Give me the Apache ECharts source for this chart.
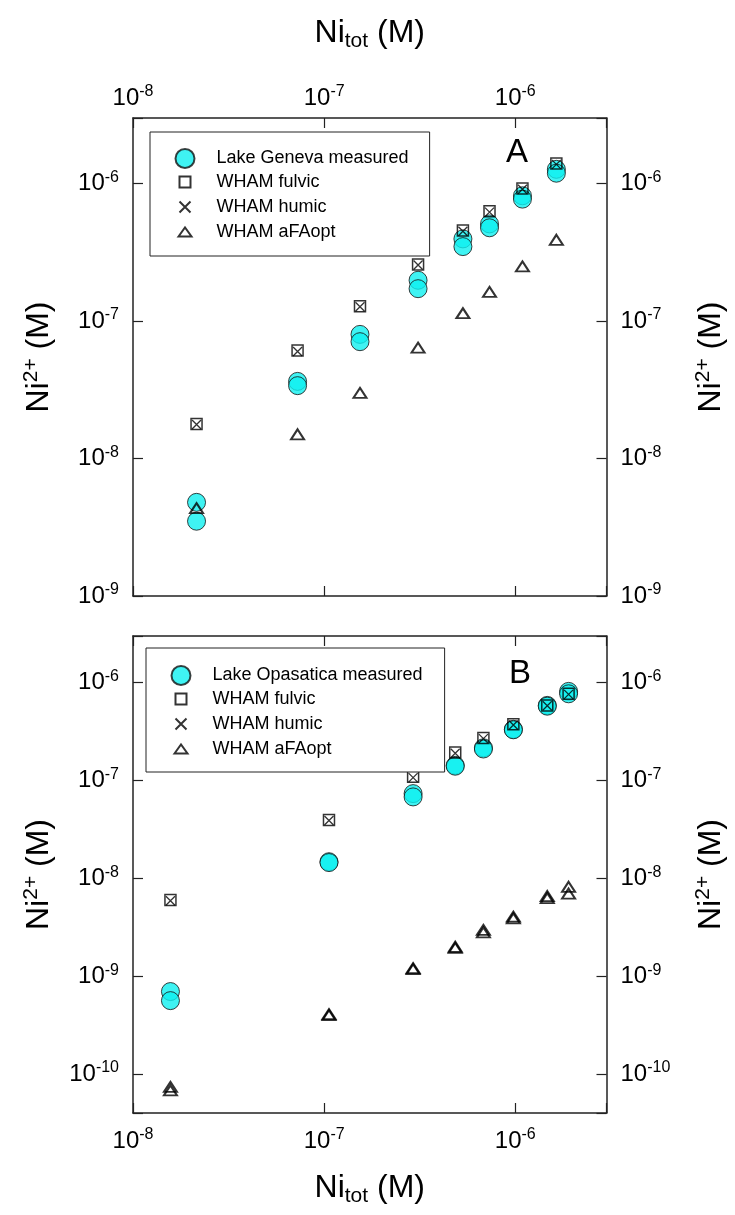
<!DOCTYPE html>
<html>
<head>
<meta charset="utf-8">
<script src="https://cdn.jsdelivr.net/npm/echarts@6/dist/echarts.min.js"></script>
<style>
  html, body { margin: 0; padding: 0; background: #fff; }
  #chart { width: 735px; height: 1215px; }
</style>
</head>
<body>
<div id="chart"></div>
<script>
// ---- panel A : Lake Geneva ----
var niTotA = [2.15e-8, 7.26e-8, 1.54e-7, 3.1e-7, 5.32e-7, 7.33e-7, 1.09e-6, 1.64e-6];
var measuredA1 = [4.8e-9, 3.64e-8, 8.0e-8, 1.98e-7, 3.96e-7, 5.09e-7, 8.15e-7, 1.27e-6];
var measuredA2 = [3.5e-9, 3.39e-8, 7.08e-8, 1.72e-7, 3.48e-7, 4.77e-7, 7.71e-7, 1.19e-6];
var fulvicA = [1.78e-8, 6.1e-8, 1.28e-7, 2.58e-7, 4.55e-7, 6.28e-7, 9.2e-7, 1.40e-6];
var humicA = [1.77e-8, 6.0e-8, 1.27e-7, 2.56e-7, 4.5e-7, 6.2e-7, 9.1e-7, 1.38e-6];
var afaoptA = [4.36e-9, 1.5e-8, 3.0e-8, 6.4e-8, 1.14e-7, 1.63e-7, 2.5e-7, 3.9e-7];

// ---- panel B : Lake Opasatica ----
var niTotB = [1.57e-8, 1.06e-7, 2.92e-7, 4.85e-7, 6.81e-7, 9.77e-7, 1.47e-6, 1.9e-6];
var measuredB1 = [6.97e-10, 1.48e-8, 7.35e-8, 1.43e-7, 2.16e-7, 3.34e-7, 5.86e-7, 8.15e-7];
var measuredB2 = [5.63e-10, 1.45e-8, 6.8e-8, 1.40e-7, 2.1e-7, 3.3e-7, 5.75e-7, 7.7e-7];
var fulvicB = [6.0e-9, 3.94e-8, 1.09e-7, 1.93e-7, 2.72e-7, 3.76e-7, 5.86e-7, 7.7e-7];
var humicB = [5.9e-9, 3.9e-8, 1.07e-7, 1.9e-7, 2.68e-7, 3.7e-7, 5.8e-7, 7.6e-7];
var afaoptB1 = [7.4e-11, 4.1e-10, 1.21e-9, 2.0e-9, 2.97e-9, 4.06e-9, 6.6e-9, 8.2e-9];
var afaoptB2 = [6.8e-11, 4.0e-10, 1.18e-9, 1.95e-9, 2.8e-9, 3.9e-9, 6.3e-9, 7.0e-9];

var seriesNames = ['WHAM fulvic', 'WHAM humic', 'WHAM aFAopt'];

var FONT = '"Liberation Sans", Arial, sans-serif';
var CYAN = '#0ff0f0';

function pairs(xs) {
    var out = [];
    for (var k = 1; k < arguments.length; k++) {
        var ys = arguments[k];
        for (var i = 0; i < xs.length; i++) out.push([xs[i], ys[i]]);
    }
    return out;
}

// "10^n" labels only at whole decades
function decadeLabel(v) {
    var e = Math.log10(v);
    if (Math.abs(e - Math.round(e)) > 1e-6) return '';
    return '10{sup|' + Math.round(e) + '}';
}

var tickRich = {
    sup: { fontSize: 16, fontFamily: FONT, color: '#000', padding: [0, 0, 12, 0] }
};
var nameRich = {
    sup: { fontSize: 21, fontFamily: FONT, color: '#000', padding: [0, 0, 16, 0] },
    sub: { fontSize: 21, fontFamily: FONT, color: '#000', padding: [16, 0, 0, 0] }
};

function logAxis(grid, pos, min, max, showLabel, margin, name, nameGap) {
    var ax = {
        type: 'log',
        logBase: 10,
        gridIndex: grid,
        position: pos,
        min: min,
        max: max,
        axisLine: { show: true, onZero: false, lineStyle: { color: '#222', width: 1.5 } },
        axisTick: { show: true, inside: true, length: 10, lineStyle: { color: '#222', width: 1.2 } },
        minorTick: { show: false },
        splitLine: { show: false },
        axisLabel: {
            show: showLabel,
            margin: margin,
            formatter: decadeLabel,
            fontSize: 24,
            fontFamily: FONT,
            color: '#000',
            rich: tickRich
        }
    };
    if (name) {
        ax.name = name;
        ax.nameLocation = 'middle';
        ax.nameGap = nameGap;
        ax.nameTextStyle = { fontSize: 32, fontFamily: FONT, color: '#000', rich: nameRich };
        if (pos === 'left' || pos === 'right') ax.nameRotate = 90;
    }
    return ax;
}

var circleStyle = { color: CYAN, borderColor: '#111', borderWidth: 1 };
var squareStyle = { color: 'none', borderColor: '#000', borderWidth: 1.5 };
var crossStyle = { color: 'none', borderColor: '#000', borderWidth: 1.3 };
var triStyle = { color: 'none', borderColor: '#000', borderWidth: 2 };

function panelSeries(measName, xi, yi, xs, meas1, meas2, fulvic, humic, tri1, tri2) {
    return [
        { name: measName, type: 'scatter', xAxisIndex: xi, yAxisIndex: yi, symbol: 'circle', symbolSize: 18,
          itemStyle: circleStyle, data: pairs(xs, meas1, meas2), z: 2 },
        { name: seriesNames[0], type: 'scatter', xAxisIndex: xi, yAxisIndex: yi, symbol: 'rect', symbolSize: 11,
          itemStyle: squareStyle, data: pairs(xs, fulvic), z: 3 },
        { name: seriesNames[1], type: 'scatter', xAxisIndex: xi, yAxisIndex: yi,
          symbol: 'path://M0,0L10,10M10,0L0,10', symbolSize: 9,
          itemStyle: crossStyle, data: pairs(xs, humic), z: 3 },
        { name: seriesNames[2], type: 'scatter', xAxisIndex: xi, yAxisIndex: yi, symbol: 'triangle', symbolSize: [13, 10],
          itemStyle: triStyle, data: tri2 ? pairs(xs, tri1, tri2) : pairs(xs, tri1), z: 3 }
    ];
}

// padded legend icons so they keep the small marker sizes
var legendIcons = {
    circle: 'circle',
    square: 'path://M0,0M19,19M4,4H15V15H4Z',
    cross: 'path://M0,0M19,19M4,4L15,15M15,4L4,15',
    tri: 'path://M0,0M19,19M3,14L9.5,5L16,14Z'
};

function legendFor(measName, left, top, padding) {
    return {
        orient: 'vertical',
        left: left,
        top: top,
        z: 6,
        padding: padding,
        itemWidth: 53,
        itemHeight: 19,
        itemGap: 1,
        selectedMode: false,
        backgroundColor: '#fff',
        borderColor: '#222',
        borderWidth: 1,
        textStyle: { fontSize: 18, fontFamily: FONT, color: '#000', lineHeight: 19 },
        data: [
            { name: measName, icon: legendIcons.circle },
            { name: seriesNames[0], icon: legendIcons.square },
            { name: seriesNames[1], icon: legendIcons.cross },
            { name: seriesNames[2], icon: legendIcons.tri }
        ]
    };
}

var nameX = 'Ni{sub|tot} (M)';
var nameY = 'Ni{sup|2+} (M)';

var option = {
    backgroundColor: '#fff',
    animation: false,
    grid: [
        { left: 133, right: 128, top: 118, height: 478 },
        { left: 133, right: 126, top: 636, height: 477 }
    ],
    xAxis: [
        logAxis(0, 'bottom', 1e-8, 3e-6, false, 14),
        logAxis(0, 'top', 1e-8, 3e-6, true, 6, nameX, 66),
        logAxis(1, 'bottom', 1e-8, 3e-6, true, 14, nameX, 57),
        logAxis(1, 'top', 1e-8, 3e-6, false, 14)
    ],
    yAxis: [
        logAxis(0, 'left', 1e-9, 3e-6, true, 14, nameY, 75),
        logAxis(0, 'right', 1e-9, 3e-6, true, 14, nameY, 86),
        logAxis(1, 'left', 4e-11, 3e-6, true, 14, nameY, 75),
        logAxis(1, 'right', 4e-11, 3e-6, true, 14, nameY, 86)
    ],
    legend: [
        legendFor('Lake Geneva measured', 150, 132, [16, 21, 12, 23]),
        legendFor('Lake Opasatica measured', 146, 648, [17, 22, 11, 23])
    ],
    graphic: [
        { type: 'text', left: 506, top: 136, style: { text: 'A', fontSize: 33, fontFamily: FONT, fill: '#000' } },
        { type: 'text', left: 509, top: 657, style: { text: 'B', fontSize: 33, fontFamily: FONT, fill: '#000' } }
    ],
    series: []
        .concat(panelSeries('Lake Geneva measured', 0, 0, niTotA, measuredA1, measuredA2, fulvicA, humicA, afaoptA))
        .concat(panelSeries('Lake Opasatica measured', 2, 2, niTotB, measuredB1, measuredB2, fulvicB, humicB, afaoptB1, afaoptB2))
};

var chart = echarts.init(document.getElementById('chart'), null, { renderer: 'canvas' });
chart.setOption(option);
</script>
</body>
</html>
